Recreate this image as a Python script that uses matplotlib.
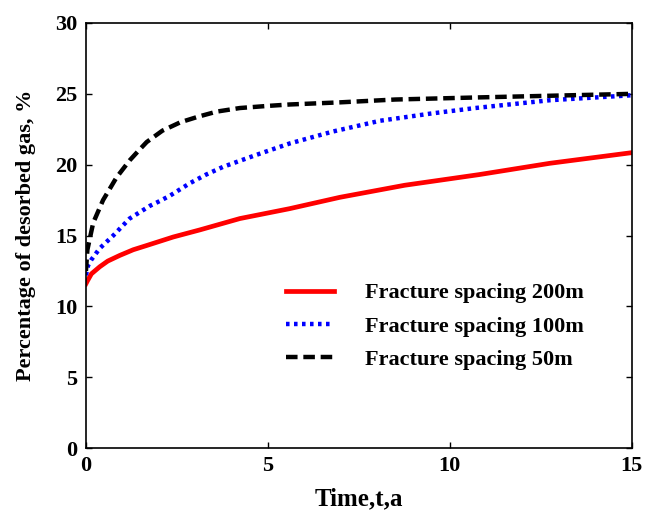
import numpy as np
import matplotlib
matplotlib.use("Agg")
import matplotlib.pyplot as plt

plt.rcParams['font.family'] = ['Liberation Serif', 'DejaVu Serif']
plt.rcParams['font.weight'] = 'bold'

# values
t_200 = [0.0, 0.04, 0.15, 0.38, 0.6, 0.93, 1.3, 1.67, 2.4, 3.13, 4.23, 5.6, 6.98, 8.76, 10.8, 12.75, 15.0]
v_200 = [11.6, 11.8, 12.3, 12.8, 13.2, 13.6, 14.0, 14.3, 14.9, 15.4, 16.2, 16.9, 17.7, 18.55, 19.3, 20.1, 20.85]

t_100 = [0.0, 0.06, 0.15, 0.38, 0.75, 1.2, 1.76, 2.0, 2.3, 2.86, 3.3, 3.77, 4.69, 5.6, 6.8, 8.08, 9.45, 10.7, 12.75, 15.0]
v_100 = [12.2, 12.9, 13.3, 14.1, 15.0, 16.2, 17.1, 17.4, 17.8, 18.7, 19.3, 19.85, 20.7, 21.5, 22.35, 23.1, 23.6, 24.0, 24.55, 24.9]

t_50 = [0.0, 0.04, 0.2, 0.47, 0.84, 1.2, 1.45, 1.67, 2.1, 2.6, 3.1, 3.6, 4.23, 5.0, 5.6, 6.98, 8.5, 10.8, 15.0]
v_50 = [12.5, 14.0, 15.9, 17.5, 19.1, 20.3, 21.0, 21.6, 22.4, 23.0, 23.4, 23.75, 24.0, 24.15, 24.25, 24.4, 24.6, 24.75, 25.0]

labels = ['Fracture spacing 200m', 'Fracture spacing 100m', 'Fracture spacing 50m']

fig = plt.figure(figsize=(6.56, 5.11), dpi=100)
ax = fig.add_axes([0.131, 0.123, 0.832, 0.832])

ax.plot(t_200, v_200, color='#ff0000', lw=3.4, ls='-', label=labels[0])
ax.plot(t_100, v_100, color='#0000ff', lw=3.2, ls=(0, (0.8, 1.0)), label=labels[1])
ax.plot(t_50, v_50, color='black', lw=3.2, ls=(0, (2.6, 1.3)), label=labels[2])

ax.set_xlim(0, 15)
ax.set_ylim(0, 30)
ax.set_xticks([0, 5, 10, 15])
ax.set_yticks([0, 5, 10, 15, 20, 25, 30])
ax.tick_params(direction='in', length=4, width=1, top=True, right=True,
               labelsize=16, pad=6)
for s in ax.spines.values():
    s.set_linewidth(1.2)

ax.set_xlabel('Time,t,a', fontsize=18, fontweight='bold', labelpad=8)
ax.set_ylabel('Percentage of desorbed gas, %', fontsize=16, fontweight='bold', labelpad=14)

ax.legend(loc='upper left', bbox_to_anchor=(0.346, 0.415), frameon=False,
          handlelength=2.15, handletextpad=1.4, labelspacing=0.58,
          borderpad=0, prop={'weight': 'bold', 'size': 16})

fig.savefig('out.png', dpi=100)
